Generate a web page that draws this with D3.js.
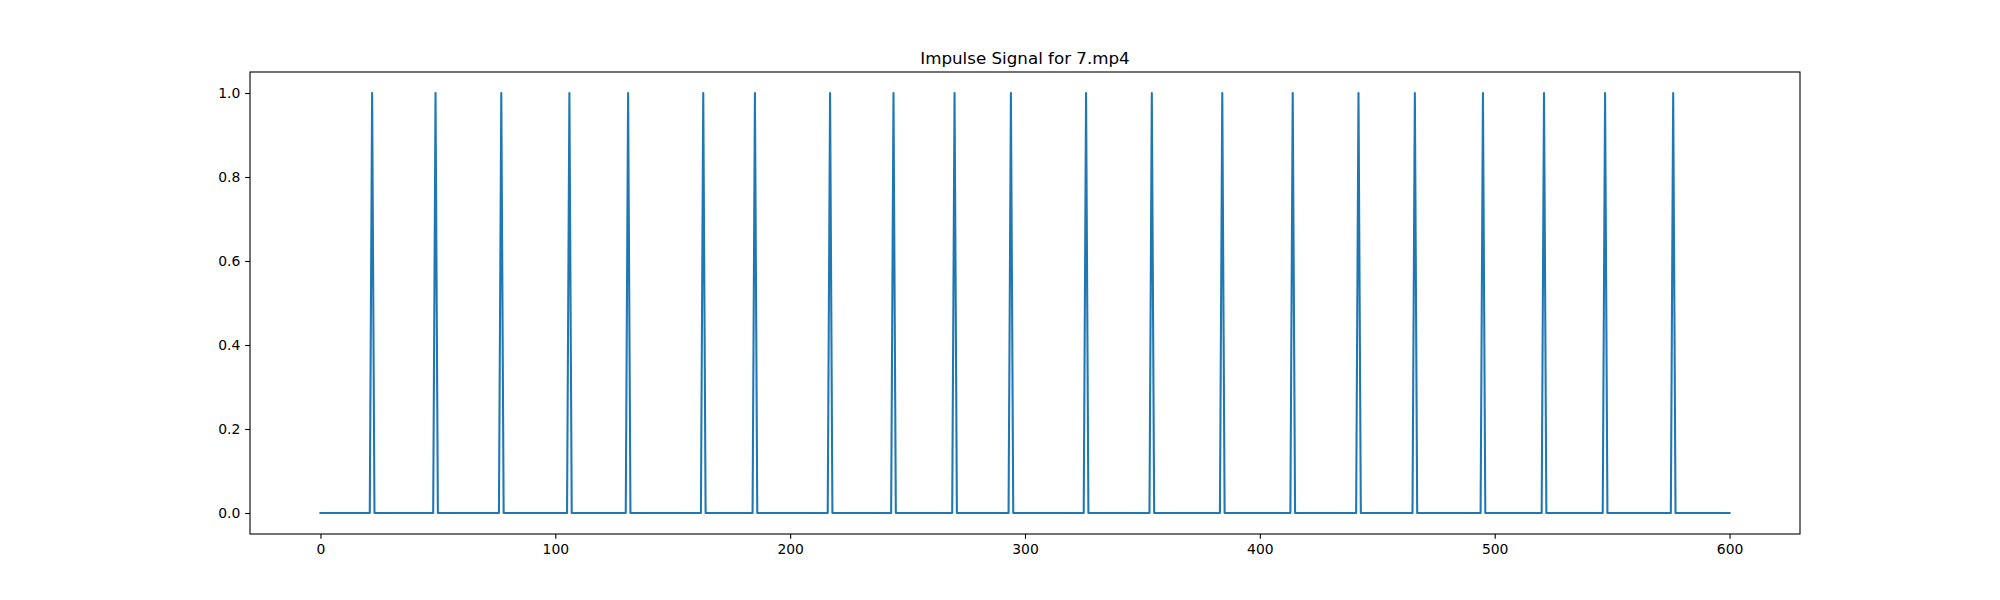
<!DOCTYPE html>
<html>
<head>
<meta charset="utf-8">
<script src="https://cdn.jsdelivr.net/npm/d3@7"></script>
<style>
  body { margin: 0; background: #fff; }
  svg text { font-family: "DejaVu Sans", sans-serif; fill: #000; }
</style>
</head>
<body>
<div id="chart"></div>
<script>
// frames 0..600, impulse = 1 at detected frames, 0 elsewhere
const frameCount = 601;
const peakFrames = [22, 49, 77, 106, 131, 163, 185, 217, 244, 270, 294,
                    326, 354, 384, 414, 442, 466, 495, 521, 547, 576];
const xTicks = [0, 100, 200, 300, 400, 500, 600];
const yTicks = [0.0, 0.2, 0.4, 0.6, 0.8, 1.0];
const title = "Impulse Signal for 7.mp4";

const signal = d3.range(frameCount).map(i => ({ x: i, y: peakFrames.includes(i) ? 1 : 0 }));

const W = 2000, H = 600;
const margin = { left: 250, right: 200, top: 72, bottom: 66 };

const svg = d3.select("#chart").append("svg")
    .attr("width", W)
    .attr("height", H);

// matplotlib-style 5% margins
const xs = d3.scaleLinear().domain([-30, 630]).range([margin.left, W - margin.right]);
const ys = d3.scaleLinear().domain([-0.05, 1.05]).range([H - margin.bottom, margin.top]);

const line = d3.line().x(d => xs(d.x)).y(d => ys(d.y));

svg.append("path")
    .datum(signal)
    .attr("d", line)
    .attr("fill", "none")
    .attr("stroke", "#1f77b4")
    .attr("stroke-width", 2.08)
    .attr("stroke-linejoin", "round")
    .attr("stroke-linecap", "square");

const xAxis = svg.append("g")
    .attr("transform", `translate(0,${H - margin.bottom})`)
    .call(d3.axisBottom(xs).tickValues(xTicks).tickFormat(d3.format("d"))
        .tickSize(4.86).tickPadding(4.86));

const yAxis = svg.append("g")
    .attr("transform", `translate(${margin.left},0)`)
    .call(d3.axisLeft(ys).tickValues(yTicks).tickFormat(d3.format(".1f"))
        .tickSize(4.86).tickPadding(4.86));

[xAxis, yAxis].forEach(g => {
    g.select(".domain").remove();
    g.selectAll("line").attr("stroke", "#000").attr("stroke-width", 1.1);
    g.selectAll("text").attr("font-size", "13.9px").attr("font-family", "DejaVu Sans");
});

// frame around the axes
svg.append("rect")
    .attr("x", margin.left)
    .attr("y", margin.top)
    .attr("width", W - margin.left - margin.right)
    .attr("height", H - margin.top - margin.bottom)
    .attr("fill", "none")
    .attr("stroke", "#000")
    .attr("stroke-width", 1.1);

svg.append("text")
    .attr("x", (margin.left + W - margin.right) / 2)
    .attr("y", margin.top - 8.3)
    .attr("text-anchor", "middle")
    .attr("font-size", "16.7px")
    .text(title);
</script>
</body>
</html>
